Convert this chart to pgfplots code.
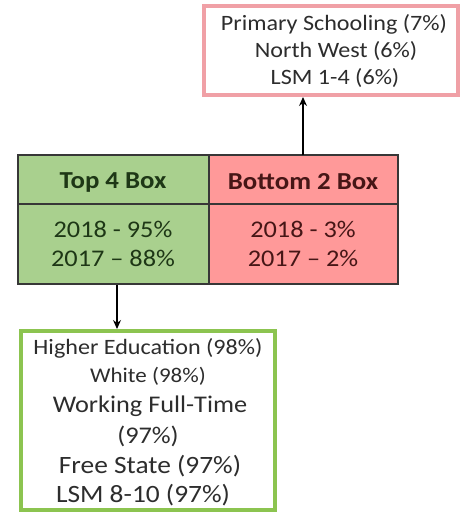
\documentclass[border=0pt]{standalone}
\usepackage{pgfplots}
\pgfplotsset{compat=1.18}
\usepackage{fontspec}
\setmainfont[FakeStretch=1.1]{Carlito}
\usetikzlibrary{arrows.meta}
\definecolor{gfill}{RGB}{169,208,142}
\definecolor{rfill}{RGB}{255,153,153}
\definecolor{rbord}{RGB}{240,160,166}
\definecolor{gbord}{RGB}{140,196,80}
\definecolor{tbord}{RGB}{55,55,55}
\definecolor{txt}{RGB}{45,45,45}
\definecolor{gtxt}{RGB}{30,55,22}
\definecolor{rtxt}{RGB}{70,22,22}
\newcommand{\fs}[1]{\fontsize{#1}{#1}\selectfont}
\begin{document}
\begin{tikzpicture}
\begin{axis}[
  scale only axis, width=465bp, height=517bp,
  xmin=0, xmax=465, ymin=0, ymax=517, y dir=reverse,
  hide axis, clip=false,
]
% table cells
\addplot[draw=none, fill=gfill] coordinates {(18,155) (209,155) (209,284) (18,284)} -- cycle;
\addplot[draw=none, fill=rfill] coordinates {(209,155) (398,155) (398,284) (209,284)} -- cycle;
\addplot[draw=tbord, line width=2bp] coordinates {(18,155) (398,155) (398,284) (18,284)} -- cycle;
\addplot[draw=tbord, line width=2bp] coordinates {(209,155) (209,284)};
\addplot[draw=tbord, line width=2bp] coordinates {(18,204) (398,204)};
% top red box
\addplot[draw=rbord, fill=white, line width=3.5bp] coordinates {(204,6) (458,6) (458,95) (204,95)} -- cycle;
% bottom green box
\addplot[draw=gbord, fill=white, line width=3.5bp] coordinates {(21,331) (275,331) (275,510) (21,510)} -- cycle;
% arrows
\addplot[black, line width=1.2bp, -{Stealth[length=9bp,width=8bp]}] coordinates {(303,155) (303,97)};
\addplot[black, line width=1.2bp, -{Stealth[length=9bp,width=8bp]}] coordinates {(117,285) (117,329)};
% table text
\node[font=\fs{24.5}\bfseries, text=gtxt] at (axis cs:113,182) {Top 4 Box};
\node[font=\fs{24.5}\bfseries, text=rtxt] at (axis cs:303,182) {Bottom 2 Box};
\node[font=\fs{24}, text=gtxt] at (axis cs:113,229) {2018 - 95\%};
\node[font=\fs{24}, text=gtxt] at (axis cs:113,258) {2017 -- 88\%};
\node[font=\fs{24}, text=rtxt] at (axis cs:303,229) {2018 - 3\%};
\node[font=\fs{24}, text=rtxt] at (axis cs:303,258) {2017 -- 2\%};
% top box text
\node[font=\fs{22}, text=txt] at (axis cs:334,24) {Primary Schooling (7\%)};
\node[font=\fs{22}, text=txt] at (axis cs:336,51) {North West (6\%)};
\node[font=\fs{22}, text=txt] at (axis cs:335,78) {LSM 1-4 (6\%)};
% bottom box text
\node[font=\fs{22}, text=txt] at (axis cs:148,348) {Higher Education (98\%)};
\node[font=\fs{21}, text=txt] at (axis cs:148,376) {White (98\%)};
\node[font=\fs{24}, text=txt] at (axis cs:150,406) {Working Full-Time};
\node[font=\fs{24}, text=txt] at (axis cs:148,436) {(97\%)};
\node[font=\fs{25}, text=txt] at (axis cs:150,466) {Free State (97\%)};
\node[font=\fs{25}, text=txt] at (axis cs:143,495) {LSM 8-10 (97\%)};
\end{axis}
\pgfresetboundingbox
\path[use as bounding box] (current axis.south west) rectangle (current axis.north east);
\end{tikzpicture}
\end{document}
